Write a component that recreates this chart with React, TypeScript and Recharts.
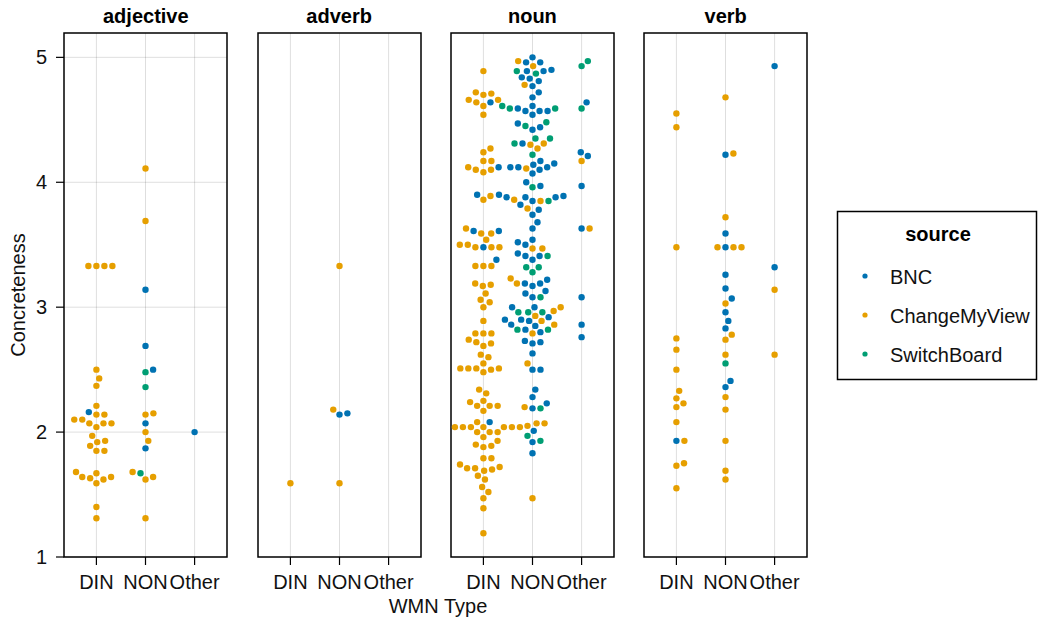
import React from 'react';
import { ScatterChart, Scatter, XAxis, YAxis, CartesianGrid, ReferenceArea } from 'recharts';

const PANELS = ['adjective', 'adverb', 'noun', 'verb'];
const CATEGORIES = ['DIN', 'NON', 'Other'];
const SOURCES = ['BNC', 'ChangeMyView', 'SwitchBoard'];
const Y_TICKS = [1, 2, 3, 4, 5];

// adjective
const adjDinBNC = [2.16];
const adjDinCMV = [3.33, 3.33, 3.33, 3.33, 2.5, 2.43, 2.37, 2.21, 2.14, 2.14, 2.1, 2.1, 2.07, 2.07, 2.07, 2.04, 1.97, 1.93, 1.92, 1.89, 1.85, 1.85, 1.68, 1.67, 1.64, 1.64, 1.63, 1.62, 1.59, 1.4, 1.31];
const adjNonBNC = [3.14, 2.69, 2.5, 2.07, 1.87];
const adjNonCMV = [4.11, 3.69, 2.15, 2.14, 2.0, 1.93, 1.68, 1.64, 1.62, 1.31];
const adjNonSB = [2.48, 2.36, 1.67];
const adjOtherBNC = [2.0];

// adverb
const advDinCMV = [1.59];
const advNonBNC = [2.14, 2.15];
const advNonCMV = [3.33, 2.18, 1.59];

// noun
const nounDinBNC = [4.64, 4.12, 3.9, 3.61, 3.61, 3.48, 3.38, 2.08];
const nounDinCMV = [4.89, 4.72, 4.71, 4.7, 4.66, 4.66, 4.64, 4.61, 4.54, 4.27, 4.24, 4.17, 4.17, 4.12, 4.1, 4.1, 4.08, 3.89, 3.86, 3.63, 3.59, 3.59, 3.54, 3.5, 3.5, 3.48, 3.48, 3.48, 3.33, 3.33, 3.33, 3.19, 3.18, 3.17, 3.11, 3.06, 3.04, 3.0, 2.89, 2.79, 2.79, 2.79, 2.74, 2.72, 2.71, 2.69, 2.62, 2.6, 2.55, 2.51, 2.51, 2.51, 2.51, 2.5, 2.48, 2.34, 2.31, 2.25, 2.24, 2.21, 2.21, 2.21, 2.17, 2.08, 2.04, 2.04, 2.04, 2.04, 2.04, 2.04, 2.04, 2.04, 2.04, 2.0, 2.0, 2.0, 1.96, 1.93, 1.9, 1.89, 1.88, 1.79, 1.79, 1.74, 1.72, 1.71, 1.71, 1.7, 1.69, 1.65, 1.62, 1.56, 1.52, 1.47, 1.39, 1.19];
const nounNonBNC = [5.0, 4.96, 4.96, 4.9, 4.89, 4.89, 4.84, 4.83, 4.81, 4.77, 4.72, 4.68, 4.61, 4.59, 4.57, 4.57, 4.57, 4.54, 4.47, 4.44, 4.42, 4.31, 4.17, 4.15, 4.14, 4.12, 4.12, 4.12, 4.1, 4.07, 4.0, 3.97, 3.9, 3.89, 3.88, 3.88, 3.88, 3.85, 3.82, 3.78, 3.74, 3.68, 3.63, 3.54, 3.52, 3.5, 3.43, 3.41, 3.41, 3.38, 3.22, 3.19, 3.19, 3.17, 3.13, 3.11, 3.08, 3.0, 3.0, 2.92, 2.9, 2.9, 2.89, 2.86, 2.85, 2.82, 2.8, 2.73, 2.72, 2.71, 2.63, 2.5, 2.5, 2.34, 2.28, 2.23, 2.19, 2.01, 1.92, 1.83];
const nounNonCMV = [4.97, 4.93, 4.78, 4.31, 4.3, 4.27, 4.11, 3.86, 3.85, 3.79, 3.47, 3.47, 3.23, 3.19, 3.0, 2.97, 2.93, 2.89, 2.86, 2.79, 2.55, 2.2, 2.07, 2.07, 2.05, 1.47];
const nounNonSB = [4.89, 4.87, 4.61, 4.59, 4.59, 4.48, 4.45, 4.35, 4.35, 4.31, 4.22, 3.96, 3.85, 3.41, 3.32, 3.32, 3.28, 3.08, 2.96, 2.96, 2.96, 2.82, 2.82, 2.19, 1.97, 1.93];
const nounOtherBNC = [4.64, 4.24, 4.21, 3.97, 3.63, 3.08, 2.86, 2.76];
const nounOtherCMV = [4.17, 3.63];
const nounOtherSB = [4.97, 4.93, 4.59];

// verb
const verbDinBNC = [1.93];
const verbDinCMV = [4.55, 4.44, 3.48, 2.75, 2.66, 2.5, 2.33, 2.27, 2.23, 2.2, 2.08, 1.93, 1.75, 1.73, 1.55];
const verbNonBNC = [4.22, 3.59, 3.48, 3.26, 3.15, 3.07, 2.96, 2.89, 2.83, 2.41, 2.36];
const verbNonCMV = [4.68, 4.23, 3.72, 3.48, 3.48, 3.48, 3.03, 2.78, 2.74, 2.62, 2.28, 2.18, 1.93, 1.69, 1.62];
const verbNonSB = [2.55];
const verbOtherBNC = [4.93, 3.32];
const verbOtherCMV = [3.14, 2.62];

// [panel, category, source, values]
const GROUPS: [number, number, number, number[]][] = [
  [0, 0, 0, adjDinBNC], [0, 0, 1, adjDinCMV], [0, 1, 0, adjNonBNC], [0, 1, 1, adjNonCMV], [0, 1, 2, adjNonSB], [0, 2, 0, adjOtherBNC],
  [1, 0, 1, advDinCMV], [1, 1, 0, advNonBNC], [1, 1, 1, advNonCMV],
  [2, 0, 0, nounDinBNC], [2, 0, 1, nounDinCMV], [2, 1, 0, nounNonBNC], [2, 1, 1, nounNonCMV], [2, 1, 2, nounNonSB],
  [2, 2, 0, nounOtherBNC], [2, 2, 1, nounOtherCMV], [2, 2, 2, nounOtherSB],
  [3, 0, 0, verbDinBNC], [3, 0, 1, verbDinCMV], [3, 1, 0, verbNonBNC], [3, 1, 1, verbNonCMV], [3, 1, 2, verbNonSB],
  [3, 2, 0, verbOtherBNC], [3, 2, 1, verbOtherCMV],
];

const COLORS = ['#0072B2', '#E69F00', '#009E73'];
const FONT = '"Liberation Sans", Arial, Helvetica, sans-serif';
const FS = 20;

const PLOT_TOP = 33.3;
const PLOT_H = 524;
const PLOT_W = 163;
const PLOT_LEFTS = [64.3, 257.6, 450.9, 644.2];
const X_DOMAIN: [number, number] = [0.34, 3.66];
const Y_DOMAIN: [number, number] = [1, 5.195];
const Y_AXIS_W = 50;
const X_AXIS_H = 45;
const PAD = 2;
const PX_PER_X = PLOT_W / (X_DOMAIN[1] - X_DOMAIN[0]);
const PX_PER_Y = PLOT_H / (Y_DOMAIN[1] - Y_DOMAIN[0]);
const SWARM_D = 8;

// simple beeswarm: place each point (sorted by value) at the free spot nearest the centre
function swarm(ys: number[], d: number): number[] {
  const order = ys.map((_, i) => i).sort((a, b) => ys[a] - ys[b]);
  const xs = new Array(ys.length).fill(0);
  const placed: number[] = [];
  for (const i of order) {
    const y = ys[i];
    const near = placed.filter((j) => Math.abs(ys[j] - y) < d);
    const cands = [0];
    for (const j of near) {
      const dx = Math.sqrt(d * d - (ys[j] - y) ** 2);
      cands.push(xs[j] + dx, xs[j] - dx);
    }
    const bias = near.reduce((s, j) => s + xs[j], 0);
    cands.sort((a, b) => {
      const k = Math.abs(a) - Math.abs(b);
      if (Math.abs(k) > 1e-6) return k;
      return bias > 0 ? a - b : b - a;
    });
    const ok = cands.find((c) => near.every((j) => (c - xs[j]) ** 2 + (ys[j] - y) ** 2 >= d * d - 1e-6));
    xs[i] = ok ?? 0;
    placed.push(i);
  }
  return xs;
}

type Pt = { x: number; y: number; src: number };

function buildPanel(panel: number): Pt[] {
  const out: Pt[] = [];
  CATEGORIES.forEach((_, cat) => {
    const pts: { v: number; src: number }[] = [];
    GROUPS.filter((g) => g[0] === panel && g[1] === cat).forEach((g) => {
      g[3].forEach((v) => pts.push({ v, src: g[2] }));
    });
    const offs = swarm(pts.map((p) => p.v * PX_PER_Y), SWARM_D);
    pts.forEach((p, i) => out.push({ x: cat + 1 + offs[i] / PX_PER_X, y: p.v, src: p.src }));
  });
  return out;
}

const tickStyle = { fontSize: FS, fill: '#111', fontFamily: FONT };

const Panel: React.FC<{ index: number }> = ({ index }) => {
  const data = buildPanel(index);
  const first = index === 0;
  return (
    <div style={{ position: 'absolute', left: PLOT_LEFTS[index] - Y_AXIS_W, top: PLOT_TOP - PAD }}>
      <ScatterChart
        width={Y_AXIS_W + PLOT_W + PAD}
        height={PAD + PLOT_H + X_AXIS_H}
        margin={{ top: PAD, right: PAD, bottom: 0, left: 0 }}
      >
        <CartesianGrid stroke="#000" strokeOpacity={0.13} strokeWidth={1} syncWithTicks />
        <XAxis
          type="number"
          dataKey="x"
          domain={X_DOMAIN}
          ticks={[1, 2, 3]}
          interval={0}
          allowDataOverflow
          tickFormatter={(v: number) => CATEGORIES[Math.round(v) - 1]}
          height={X_AXIS_H}
          axisLine={false}
          tickSize={8}
          tickMargin={10}
          tick={tickStyle}
          tickLine={{ stroke: '#000', strokeWidth: 1.2 }}
        />
        <YAxis
          type="number"
          dataKey="y"
          domain={Y_DOMAIN}
          ticks={Y_TICKS}
          interval={0}
          allowDataOverflow
          width={Y_AXIS_W}
          axisLine={false}
          tickSize={8}
          tickMargin={9}
          tick={first ? tickStyle : false}
          tickLine={first ? { stroke: '#000', strokeWidth: 1.2 } : false}
        />
        {SOURCES.map((s, si) => (
          <Scatter
            key={s}
            name={s}
            data={data.filter((p) => p.src === si)}
            fill={COLORS[si]}
            isAnimationActive={false}
            shape={(p: any) => <circle cx={p.cx} cy={p.cy} r={3.2} fill={COLORS[si]} />}
          />
        ))}
        <ReferenceArea
          x1={X_DOMAIN[0]}
          x2={X_DOMAIN[1]}
          y1={Y_DOMAIN[0]}
          y2={Y_DOMAIN[1]}
          fill="none"
          stroke="#000"
          strokeWidth={1.5}
          ifOverflow="visible"
        />
      </ScatterChart>
    </div>
  );
};

const LEGEND_Y = [276, 315, 354];

export default function App() {
  return (
    <div style={{ position: 'absolute', left: 0, top: 0, width: 1038, height: 622, background: '#fff', fontFamily: FONT }}>
      {PANELS.map((_, i) => (
        <Panel key={i} index={i} />
      ))}
      <svg width={1038} height={622} style={{ position: 'absolute', left: 0, top: 0, pointerEvents: 'none' }}>
        {PANELS.map((name, i) => (
          <text
            key={name}
            x={PLOT_LEFTS[i] + PLOT_W / 2}
            y={23}
            textAnchor="middle"
            fontSize={FS}
            fontWeight="bold"
            fontFamily={FONT}
            fill="#000"
          >
            {name}
          </text>
        ))}
        <text x={25} y={295} transform="rotate(-90 25 295)" textAnchor="middle" fontSize={FS} fontFamily={FONT} fill="#111">
          Concreteness
        </text>
        <text x={438} y={613} textAnchor="middle" fontSize={FS} fontFamily={FONT} fill="#111">
          WMN Type
        </text>
        <rect x={837.5} y={211.5} width={199} height={168} fill="#fff" stroke="#000" strokeWidth={1.5} />
        <text x={938} y={241} textAnchor="middle" fontSize={FS} fontWeight="bold" fontFamily={FONT} fill="#000">
          source
        </text>
        {SOURCES.map((s, i) => (
          <g key={s}>
            <circle cx={865} cy={LEGEND_Y[i]} r={2.6} fill={COLORS[i]} />
            <text x={890} y={LEGEND_Y[i] + 7.5} fontSize={FS} fontFamily={FONT} fill="#111">
              {s}
            </text>
          </g>
        ))}
      </svg>
    </div>
  );
}
